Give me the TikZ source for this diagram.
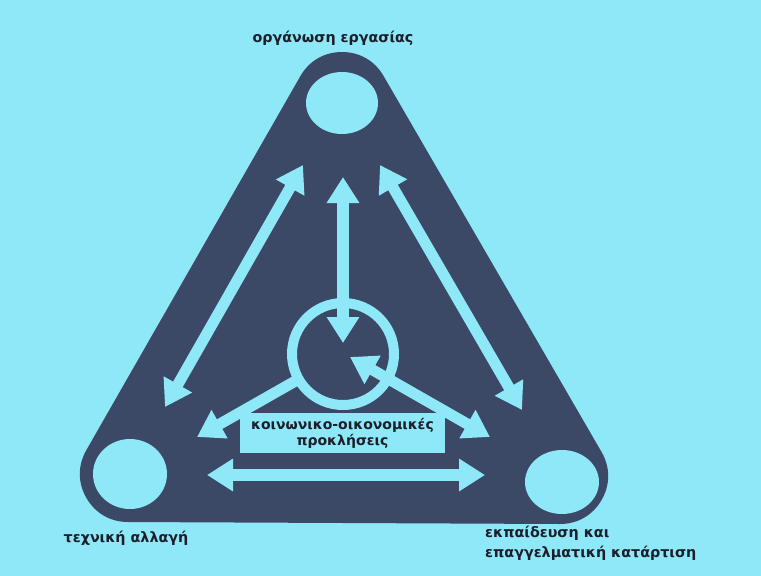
\documentclass[tikz,border=0pt]{standalone}
\usepackage{fontspec}
\setmainfont{DejaVu Sans}
\usetikzlibrary{arrows.meta}
\definecolor{bg}{RGB}{142,232,247}
\definecolor{navy}{RGB}{60,73,102}
\definecolor{ink}{RGB}{28,30,42}
\begin{document}
\begin{tikzpicture}[x=1pt,y=-1pt,
  lbl/.style={font=\bfseries\fontsize{14.3}{17}\selectfont, text=ink, inner sep=0pt},
  dbl/.style={draw=bg, line width=11pt, {Triangle[length=26pt,width=31pt]}-{Triangle[length=26pt,width=31pt]}},
  sgl/.style={draw=bg, line width=11pt, -{Triangle[length=26pt,width=31pt]}},
  hole/.style={fill=bg}]
\fill[bg] (0,0) rectangle (761,576);
\useasboundingbox (0,0) rectangle (761,576);
% dark rounded triangle
\coordinate (hT) at (342,100);
\coordinate (hL) at (128,474);
\coordinate (hR) at (560,476);
\filldraw[navy, line width=96pt, line join=round] (hT) -- (hL) -- (hR) -- cycle;
% corner holes
\fill[hole] (342,103) ellipse [x radius=36, y radius=31];
\fill[hole] (130,474) ellipse [x radius=37, y radius=35];
\fill[hole] (562,482) ellipse [x radius=37, y radius=32];
% central ring
\coordinate (C) at (343,354);
\draw[bg, line width=10pt] (C) circle [radius=51];
% arrow end points
\coordinate (lt) at (303,165);
\coordinate (lb) at (165,407);
\coordinate (rt) at (380,165);
\coordinate (rb) at (522,410);
\coordinate (vt) at (343,177);
\coordinate (vb) at (343,343);
\coordinate (s1) at (299,379);
\coordinate (s1e) at (197,437);
\coordinate (s2) at (350,357);
\coordinate (s2e) at (490,437);
\coordinate (hl) at (207,475);
\coordinate (hr) at (485,475);
\draw[dbl] (lt) -- (lb);
\draw[dbl] (rt) -- (rb);
\draw[dbl, line width=12pt] (vt) -- (vb);
\draw[sgl] (s1) -- (s1e);
\draw[dbl] (s2) -- (s2e);
\draw[dbl, line width=12pt] (hl) -- (hr);
% label box
\node[fill=bg, minimum width=205pt, minimum height=40pt, inner sep=0pt, align=center,
  font=\bfseries\fontsize{14}{16}\selectfont, text=ink] (box) at (342.5,433)
  {κοινωνικο-οικονομικές\\προκλήσεις};
% labels
\node[lbl] (ltop) at (333,38) {οργάνωση εργασίας};
\node[lbl] (lleft) at (126,538) {τεχνική αλλαγή};
\node[lbl, anchor=west, align=left, font=\bfseries\fontsize{14.3}{20}\selectfont] (lright) at (485,543) {εκπαίδευση και\\επαγγελματική κατάρτιση};
\end{tikzpicture}
\end{document}
